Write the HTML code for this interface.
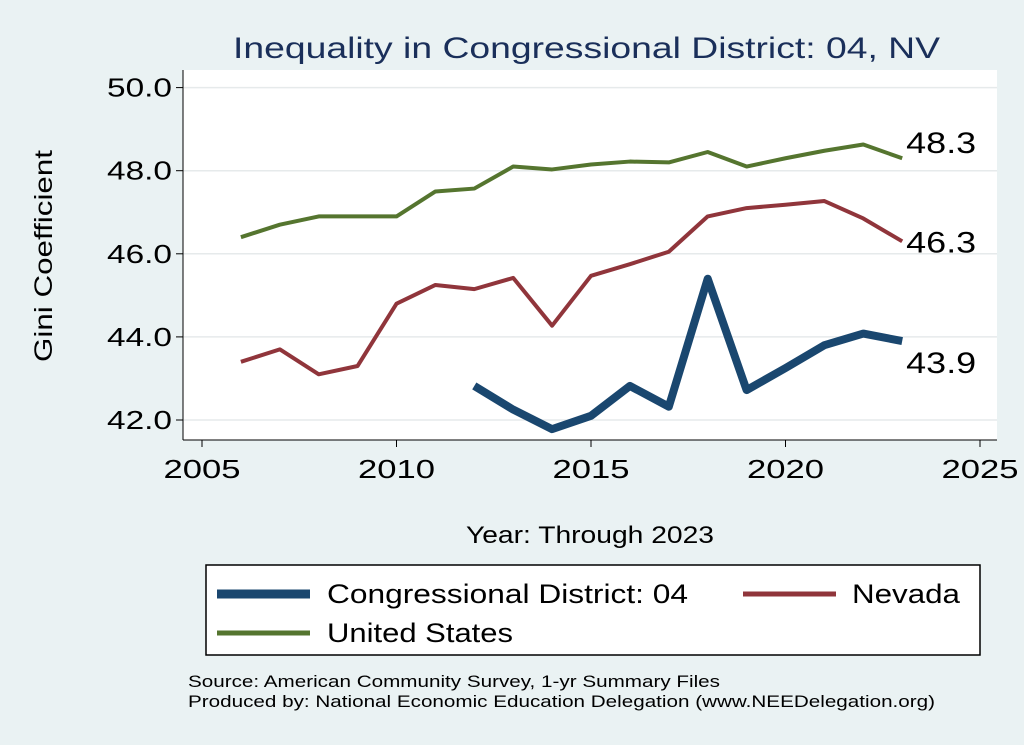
<!DOCTYPE html>
<html><head><meta charset="utf-8"><style>
body{margin:0;background:#eaf2f3;}
svg{display:block;font-family:"Liberation Sans",sans-serif;}
</style></head><body>
<svg id="c" width="1024" height="745" xml:space="preserve">
<rect x="0" y="0" width="1024" height="745" fill="#eaf2f3"/>
<text x="233" y="58" font-size="30" fill="#1a2f5a" textLength="707" lengthAdjust="spacingAndGlyphs">Inequality in Congressional District:  04, NV</text>
<rect x="183" y="70" width="814" height="370" fill="#fff"/>
<g id="grid"></g><g id="axes"></g><g id="series"></g>
<text x="52" y="362" font-size="25" textLength="212" lengthAdjust="spacingAndGlyphs" transform="rotate(-90 52 362)">Gini Coefficient</text>
<text x="466" y="543" font-size="24" textLength="248" lengthAdjust="spacingAndGlyphs">Year: Through 2023</text>
<g>
<rect x="206" y="565" width="774" height="90" fill="#fff" stroke="#000" stroke-width="1.5"/>
<line x1="217" y1="594" x2="310" y2="594" stroke="#1a476f" stroke-width="9"/>
<text x="327" y="603" font-size="27" textLength="361" lengthAdjust="spacingAndGlyphs">Congressional District:  04</text>
<line x1="743" y1="594" x2="836" y2="594" stroke="#90353b" stroke-width="5"/>
<text x="852" y="603" font-size="27" textLength="108" lengthAdjust="spacingAndGlyphs">Nevada</text>
<line x1="217" y1="633" x2="310" y2="633" stroke="#55752f" stroke-width="5"/>
<text x="327" y="642" font-size="27" textLength="186" lengthAdjust="spacingAndGlyphs">United States</text>
</g>
<text x="188" y="687" font-size="17" textLength="532" lengthAdjust="spacingAndGlyphs">Source: American Community Survey, 1-yr Summary Files</text>
<text x="188" y="707" font-size="17" textLength="747" lengthAdjust="spacingAndGlyphs">Produced by: National Economic Education Delegation (www.NEEDelegation.org)</text>
</svg>
<script>
const yTicks=[42,44,46,48,50];
const xTicks=[2005,2010,2015,2020,2025];
const usYears=[2006,2007,2008,2009,2010,2011,2012,2013,2014,2015,2016,2017,2018,2019,2020,2021,2022,2023];
const usVals=[46.4,46.7,46.9,46.9,46.9,47.5,47.57,48.1,48.03,48.15,48.22,48.2,48.45,48.1,48.3,48.48,48.63,48.3];
const nvYears=usYears;
const nvVals=[43.4,43.7,43.1,43.3,44.8,45.25,45.15,45.42,44.27,45.47,45.75,46.05,46.9,47.1,47.18,47.27,46.85,46.3];
const cdYears=[2012,2013,2014,2015,2016,2017,2018,2019,2020,2021,2022,2023];
const cdVals=[42.82,42.25,41.78,42.1,42.82,42.32,45.4,42.72,43.25,43.8,44.08,43.9];
const X=v=>202+(v-2005)*38.9;
const Y=v=>420-(v-42)*41.55;
const NS='http://www.w3.org/2000/svg';
function mk(t,a,p){const e=document.createElementNS(NS,t);for(const k in a)e.setAttribute(k,a[k]);p.appendChild(e);return e;}
const grid=document.getElementById('grid'),axes=document.getElementById('axes'),ser=document.getElementById('series');
yTicks.forEach(v=>{
 const g=mk('line',{x1:183,x2:997,y1:Y(v),y2:Y(v),stroke:'#e6eaeb','stroke-width':1.5},grid);
 
 
 const t=mk('line',{x1:176,x2:183,y1:Y(v),y2:Y(v),stroke:'#000'},axes);
 
 
 const l=mk('text',{x:107,y:Y(v)+9,'font-size':26,textLength:65,lengthAdjust:'spacingAndGlyphs'},axes);l.textContent=v.toFixed(1);
 
 
});
mk('line',{x1:183,x2:183,y1:70,y2:440,stroke:'#000'},axes);
mk('line',{x1:183,x2:997,y1:440,y2:440,stroke:'#000'},axes);
xTicks.forEach(v=>{
 const t=mk('line',{x1:X(v),x2:X(v),y1:440,y2:447,stroke:'#000'},axes);
 
 
 const l=mk('text',{x:X(v)-38.5,y:478,'font-size':26,textLength:77,lengthAdjust:'spacingAndGlyphs'},axes);l.textContent=v;
 
 
});
function line(xs,ys,col,w,name,dy){
 const p=mk('polyline',{points:xs.map((x,i)=>X(x)+','+Y(ys[i])).join(' '),fill:'none',stroke:col,'stroke-width':w,'stroke-linejoin':'round'},ser);
 
 
 const n=xs.length-1;
 const t=mk('text',{x:X(xs[n])+4,y:Y(ys[n])+dy,'font-size':30,textLength:70,lengthAdjust:'spacingAndGlyphs'},ser);t.textContent=ys[n].toFixed(1);
 
 
}
line(usYears,usVals,'#55752f',4,'us-line',-5);
line(nvYears,nvVals,'#90353b',4,'nevada-line',11);
line(cdYears,cdVals,'#1a476f',8,'district-line',32);
</script>
</body></html>
